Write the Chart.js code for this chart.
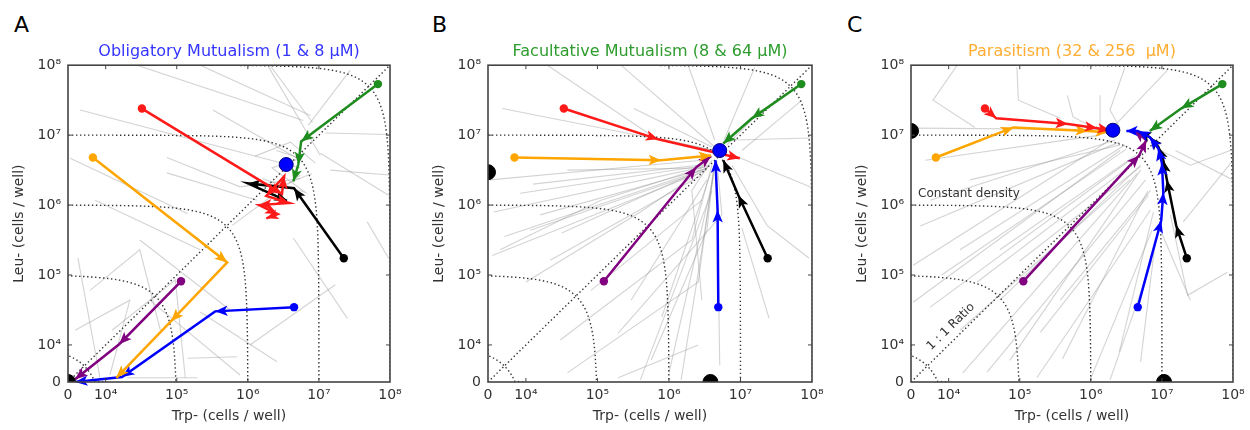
<!DOCTYPE html>
<html>
<head>
<meta charset="utf-8">
<script src="https://cdn.jsdelivr.net/npm/chart.js@4.4.0/dist/chart.umd.min.js"></script>
<style>
  html, body { margin: 0; padding: 0; background: #fff; }
  #wrap { position: relative; width: 1250px; height: 430px; overflow: hidden; font-family: "DejaVu Sans", sans-serif; }
  .panel { position: absolute; top: 0; }
  .letter { position: absolute; top: 14px; font-size: 22px; line-height: 1; color: #000; }
</style>
</head>
<body>
<div id="wrap">
  <div class="letter" style="left:14px">A</div>
  <div class="letter" style="left:432px">B</div>
  <div class="letter" style="left:847px">C</div>
  <canvas class="panel" id="panelA" width="415" height="430" style="left:0px"></canvas>
  <canvas class="panel" id="panelB" width="417" height="430" style="left:420px"></canvas>
  <canvas class="panel" id="panelC" width="407" height="430" style="left:843px"></canvas>
</div>
<script>
// All coordinates are log10(cells / well). An empty well (0 cells) is drawn on the lower edge of the axis.
const ZERO = -Infinity;
const AXIS_ZERO = 3.47;
const AXIS_TOP = 8;
const tickValues = [AXIS_ZERO, 4, 5, 6, 7, 8];
const tickLabels = ['0', '10\u2074', '10\u2075', '10\u2076', '10\u2077', '10\u2078'];
const densityLevels = [4, 5, 6, 7, 8];

// ---- A: obligatory mutualism (1 & 8 uM) ----
const obligRed    = [[4.51,7.38],[6.48,6.16],[6.51,6.41],[6.26,6.13],[6.58,6.03],[6.16,6.00],[6.42,5.87],[6.26,5.81]];
const obligGreen  = [[7.83,7.73],[6.75,6.91],[6.71,6.58],[6.64,6.34]];
const obligBlack  = [[7.35,5.24],[6.65,6.24],[6.00,6.31],[6.55,6.06]];
const obligOrange = [[3.82,6.68],[5.71,5.18],[4.92,4.34],[4.15,3.53]];
const obligBlue   = [[6.65,4.54],[5.54,4.48],[4.23,3.54],[3.57,ZERO]];
const obligPurple = [[5.06,4.91],[4.19,4.01],[3.57,3.51]];
const obligStable = [[6.54,6.58]];
const obligExtinct = [[ZERO,ZERO]];
const obligGray = [
  [[4.44,8.00],[6.78,7.21]], [[5.33,8.00],[6.88,7.28]], [[6.31,8.00],[6.91,7.18]],
  [[3.64,7.36],[6.74,6.53]], [[3.50,6.67],[5.15,5.88]], [[5.51,7.36],[6.74,6.64]],
  [[7.02,6.74],[7.98,6.14]], [[7.09,7.03],[7.98,7.01]], [[7.44,7.93],[6.85,7.14]],
  [[4.86,6.46],[6.13,6.07]], [[6.64,5.53],[7.40,4.38]], [[7.68,5.76],[7.98,5.24]],
  [[3.61,5.24],[3.92,3.53]], [[5.33,4.47],[6.41,3.76]], [[4.30,3.53],[5.29,3.53]],
  [[5.15,3.81],[5.85,3.83]], [[3.78,4.78],[4.48,5.36],[4.77,4.21]],
  [[3.57,4.21],[4.34,4.64],[4.06,3.57]], [[4.48,5.50],[5.75,4.50]],
  [[6.20,6.38],[6.81,6.18],[6.34,6.53],[6.74,6.67],[6.40,6.78]],
  [[6.03,4.00],[7.23,4.86]], [[3.85,6.07],[5.33,5.36]],
  [[4.09,4.21],[4.98,4.93],[5.12,3.53]], [[4.62,4.64],[5.89,3.57]],
  [[5.78,5.71],[6.74,6.43]], [[4.86,6.68],[5.89,6.26],[6.74,6.38]],
  [[6.29,7.98],[7.02,6.71]], [[7.16,6.50],[7.98,6.43]],
  [[6.10,6.70],[6.60,6.90],[6.95,6.60]], [[6.30,6.20],[6.90,6.45]]
];

// ---- B: facultative mutualism (8 & 64 uM) ----
const facultRed    = [[4.53,7.38],[5.85,6.94],[6.99,6.67]];
const facultGreen  = [[7.85,7.73],[7.16,7.24],[6.76,6.88]];
const facultOrange = [[3.84,6.68],[5.89,6.64],[6.59,6.71]];
const facultPurple = [[5.09,4.91],[6.38,6.54],[6.59,6.70]];
const facultBlue   = [[6.69,4.54],[6.68,5.93],[6.65,6.64]];
const facultBlack  = [[7.38,5.24],[6.97,6.14],[6.76,6.64]];
const facultStable = [[6.71,6.78]];
const facultExtinct = [[ZERO,6.47],[6.58,ZERO]];
const facultGray = [
  [[3.67,7.38],[6.64,6.78]], [[4.30,8.00],[5.79,6.97],[6.63,6.78]], [[5.33,8.00],[6.64,6.83]],
  [[6.27,8.00],[6.64,6.93]], [[5.51,7.38],[6.60,6.83]], [[7.98,6.96],[6.92,6.93]],
  [[7.98,6.26],[6.98,6.68]], [[7.20,7.97],[6.77,6.93]], [[3.50,6.36],[6.46,6.64]],
  [[3.92,6.17],[6.53,6.57]], [[4.58,6.50],[6.46,6.53]], [[3.53,5.28],[6.53,6.50]],
  [[3.64,5.36],[5.05,6.07],[6.57,6.57]], [[4.58,3.60],[6.41,4.90],[6.63,6.57]],
  [[5.29,3.53],[6.41,4.00]], [[5.29,4.17],[6.74,5.86],[6.67,6.64]],
  [[7.40,4.38],[7.02,5.67]], [[7.96,5.24],[7.37,5.71],[6.88,6.57]],
  [[6.71,3.71],[6.68,5.86]], [[4.48,4.07],[6.32,5.50],[6.60,6.57]],
  [[5.47,4.64],[6.53,6.36]], [[6.17,3.50],[6.46,5.36],[6.63,6.50]],
  [[4.34,5.21],[6.46,6.43]], [[6.46,4.64],[6.32,6.21],[6.60,6.64]],
  [[4.06,5.64],[6.32,6.43]], [[7.30,7.36],[6.81,6.86]], [[4.91,4.78],[6.46,6.07]],
  [[4.20,5.86],[6.54,6.53]], [[5.75,3.78],[6.53,5.64],[6.64,6.64]],
  [[7.86,7.50],[7.02,6.78]],
  [[3.55,5.90],[6.50,6.55]], [[3.70,5.55],[6.52,6.52]], [[4.10,6.30],[6.50,6.58]],
  [[4.00,4.90],[5.60,5.90],[6.55,6.55]], [[5.60,3.50],[6.60,6.20]], [[6.00,3.60],[6.62,6.40]],
  [[5.90,4.40],[6.58,6.45]], [[4.50,5.60],[6.45,6.50]]
];

// ---- C: parasitism (32 & 256 uM) ----
const parasRed    = [[4.51,7.38],[4.67,7.24],[5.68,7.16],[6.09,7.10],[6.27,7.07]];
const parasOrange = [[3.82,6.68],[4.91,7.11],[5.96,7.06],[6.24,7.04]];
const parasGreen  = [[7.85,7.73],[7.27,7.38],[6.83,7.06]];
const parasPurple = [[5.05,4.91],[6.68,6.71],[6.78,6.93],[6.61,7.07]];
const parasBlue   = [[6.66,4.54],[6.99,5.78],[7.02,6.18],[7.00,6.60],[6.95,6.81],[6.83,6.97],[6.66,7.06],[6.50,7.06]];
const parasBlack  = [[7.35,5.24],[7.20,5.71],[7.07,6.36],[7.02,6.64],[6.95,6.83],[6.83,6.97],[6.69,7.04]];
const parasStable = [[6.31,7.07]];
const parasExtinct = [[ZERO,7.06],[7.03,ZERO]];
const parasGray = [
  [[3.50,4.61],[6.41,6.78]], [[3.50,5.14],[6.27,6.93]], [[3.74,4.54],[6.55,6.64]],
  [[4.16,5.36],[6.48,6.86]], [[4.54,3.61],[6.77,6.36]], [[5.24,3.53],[6.84,5.93]],
  [[5.29,4.18],[6.81,6.14]], [[4.86,3.78],[6.70,6.50]], [[6.70,3.76],[6.91,5.50]],
  [[5.99,3.50],[6.86,5.64]], [[5.57,4.64],[6.84,6.21]], [[3.74,6.07],[6.34,6.93]],
  [[3.67,6.64],[6.13,7.00]], [[4.30,6.36],[6.41,6.86]],
  [[4.12,8.00],[3.78,7.50],[4.37,7.11]], [[4.96,7.97],[4.98,7.50],[5.57,7.24]],
  [[5.67,7.57],[5.75,7.26],[6.06,7.10]], [[6.13,7.57],[6.13,7.10]],
  [[7.08,7.93],[6.31,7.11]], [[8.00,6.36],[7.19,6.78]], [[7.30,5.76],[8.00,6.64]],
  [[7.92,5.04],[7.36,4.71],[7.12,5.86]], [[7.40,4.64],[6.98,5.64]],
  [[3.53,7.10],[6.13,7.08]], [[4.72,5.36],[6.63,6.71]], [[6.27,3.50],[6.86,5.21]],
  [[4.16,4.21],[6.55,6.36]], [[4.72,4.64],[6.70,6.57]],
  [[7.96,6.78],[7.40,6.57],[6.98,6.78]], [[6.48,7.97],[6.27,7.36],[6.41,7.10]],
  [[3.60,5.70],[6.40,6.90]], [[3.90,5.00],[6.50,6.80]], [[4.40,4.90],[6.60,6.60]],
  [[5.00,5.20],[6.70,6.55]], [[5.60,3.80],[6.80,6.20]], [[4.20,3.60],[6.65,6.45]],
  [[6.40,3.90],[6.88,5.90]]
];

// ---------------------------------------------------------------
const FONT = '"DejaVu Sans", sans-serif';
const GRID_INK = '#333';

function clampAxis(v) { return v < AXIS_ZERO ? AXIS_ZERO : v; }
function toPoints(arr) { return arr.map(([x, y]) => ({ x: clampAxis(x), y: clampAxis(y) })); }

// x + y = N (cells per well) drawn on the log/log plane
function densityCurve(level) {
  const N = Math.pow(10, level);
  const mid = level - Math.log10(2);
  const pts = [{ x: AXIS_ZERO, y: level }];
  for (let a = AXIS_ZERO; a < mid; a += 0.02) pts.push({ x: a, y: Math.log10(N - Math.pow(10, a)) });
  for (let b = mid; b >= AXIS_ZERO; b -= 0.02) pts.push({ x: Math.log10(N - Math.pow(10, b)), y: b });
  pts.push({ x: level, y: AXIS_ZERO });
  return pts;
}

function trackDataset(arr, color) {
  return {
    data: toPoints(arr), showLine: true, borderColor: color, backgroundColor: color,
    borderWidth: 2.5, tension: 0, arrow: { color: color, len: 12.5, half: 5.2 },
    pointRadius: c => (c.dataIndex === 0 ? 4.2 : 0), pointHoverRadius: 0,
    pointBackgroundColor: color, pointBorderWidth: 0
  };
}

function dotDataset(arr, fill, stroke, r) {
  return {
    data: toPoints(arr), showLine: false, pointRadius: r, pointHoverRadius: r,
    pointBackgroundColor: fill, pointBorderColor: stroke, pointBorderWidth: 1, clip: 0
  };
}

const arrowPlugin = {
  id: 'trackArrows',
  afterDatasetDraw(chart, args) {
    const ds = chart.data.datasets[args.index];
    if (!ds.arrow) return;
    const pts = args.meta.data;
    const ctx = chart.ctx;
    ctx.save();
    ctx.fillStyle = ds.arrow.color;
    for (let i = 1; i < pts.length; i++) {
      const p0 = pts[i - 1], p1 = pts[i];
      const dx = p1.x - p0.x, dy = p1.y - p0.y;
      const d = Math.hypot(dx, dy);
      if (d < 4) continue;
      const ux = dx / d, uy = dy / d;
      const L = Math.min(ds.arrow.len, d), H = ds.arrow.half;
      const bx = p1.x - ux * L, by = p1.y - uy * L;
      ctx.beginPath();
      ctx.moveTo(p1.x, p1.y);
      ctx.lineTo(bx - uy * H, by + ux * H);
      ctx.lineTo(bx + ux * 3, by + uy * 3);
      ctx.lineTo(bx + uy * H, by - ux * H);
      ctx.closePath();
      ctx.fill();
    }
    ctx.restore();
  }
};

const framePlugin = {
  id: 'frameTicks',
  afterDraw(chart) {
    const { ctx, chartArea: a, scales } = chart;
    ctx.save();
    ctx.strokeStyle = '#444';
    ctx.lineWidth = 1;
    ctx.beginPath();
    for (const v of tickValues.slice(1, -1)) {
      const px = scales.x.getPixelForValue(v);
      const py = scales.y.getPixelForValue(v);
      ctx.moveTo(px, a.bottom); ctx.lineTo(px, a.bottom - 4);
      ctx.moveTo(px, a.top); ctx.lineTo(px, a.top + 4);
      ctx.moveTo(a.left, py); ctx.lineTo(a.left + 4, py);
      ctx.moveTo(a.right, py); ctx.lineTo(a.right - 4, py);
    }
    ctx.stroke();
    ctx.lineWidth = 1.6;
    ctx.strokeRect(a.left, a.top, a.right - a.left, a.bottom - a.top);
    ctx.restore();
  }
};

const notesPlugin = {
  id: 'notes',
  afterDatasetsDraw(chart, args, opts) {
    if (!opts || !opts.items) return;
    const { ctx, scales } = chart;
    const diag = Math.atan2(scales.y.getPixelForValue(AXIS_TOP) - scales.y.getPixelForValue(AXIS_ZERO),
                            scales.x.getPixelForValue(AXIS_TOP) - scales.x.getPixelForValue(AXIS_ZERO));
    ctx.save();
    ctx.fillStyle = GRID_INK;
    ctx.font = '12px ' + FONT;
    for (const it of opts.items) {
      const px = scales.x.getPixelForValue(it.x), py = scales.y.getPixelForValue(it.y);
      ctx.save();
      ctx.translate(px, py);
      if (it.alongDiagonal) ctx.rotate(diag);
      ctx.textAlign = it.align || 'left';
      ctx.textBaseline = 'middle';
      ctx.fillText(it.text, 0, 0);
      ctx.restore();
    }
    ctx.restore();
  }
};

function axis(titleText, isX) {
  const cfg = {
    type: 'linear', min: AXIS_ZERO, max: AXIS_TOP,
    afterBuildTicks: s => { s.ticks = tickValues.map(v => ({ value: v })); },
    ticks: {
      callback: (v, i) => tickLabels[i], font: { family: FONT, size: 14 }, color: GRID_INK,
      maxRotation: 0, autoSkip: false, padding: isX ? 5 : 7
    },
    grid: { display: false, drawTicks: false },
    border: { display: false },
    title: {
      display: true, text: titleText, color: GRID_INK, font: { family: FONT, size: 14 },
      padding: isX ? { top: 0, bottom: 5 } : { top: 11, bottom: 0 }
    }
  };
  if (isX) cfg.afterFit = s => { s.height = 48; };
  else cfg.afterFit = s => { s.width = 68; };
  return cfg;
}

function makePanel(canvasId, titleText, titleColor, tracks, stable, extinct, gray, rightPad, notes) {
  const datasets = [];
  datasets.push(dotDataset(extinct, '#000', '#000', 7.5));
  datasets.push(dotDataset(stable, '#0000ff', '#00007a', 7));
  for (const [arr, color] of tracks) datasets.push(trackDataset(arr, color));
  datasets.push({
    data: [{ x: AXIS_ZERO, y: AXIS_ZERO }, { x: AXIS_TOP, y: AXIS_TOP }], showLine: true,
    borderColor: GRID_INK, borderWidth: 1.4, borderDash: [1.4, 2.6], pointRadius: 0
  });
  for (const lv of densityLevels) {
    datasets.push({
      data: densityCurve(lv), showLine: true, borderColor: GRID_INK, borderWidth: 1.4,
      borderDash: [1.4, 2.6], pointRadius: 0, tension: 0
    });
  }
  for (const g of gray) {
    datasets.push({
      data: toPoints(g), showLine: true, borderColor: 'rgba(150,150,150,0.42)',
      borderWidth: 1.1, pointRadius: 0, tension: 0
    });
  }
  new Chart(document.getElementById(canvasId), {
    type: 'scatter',
    data: { datasets },
    options: {
      responsive: false, animation: false, devicePixelRatio: 1,
      layout: { padding: { left: 0, right: rightPad, top: 0, bottom: 0 } },
      scales: { x: axis('Trp- (cells / well)', true), y: axis('Leu- (cells / well)', false) },
      plugins: {
        legend: { display: false }, tooltip: { enabled: false },
        title: {
          display: true, text: titleText, color: titleColor, fullSize: false,
          font: { family: FONT, size: 16, weight: 'normal' }, padding: { top: 42, bottom: 4 }
        },
        notes: { items: notes || [] }
      }
    },
    plugins: [arrowPlugin, framePlugin, notesPlugin]
  });
}

makePanel('panelA', 'Obligatory Mutualism (1 & 8 \u03bcM)', '#3535ff',
  [[obligRed, '#ff1a1a'], [obligGreen, '#1e8c1e'], [obligBlack, '#000000'],
   [obligOrange, '#ffa500'], [obligBlue, '#0000ff'], [obligPurple, '#800080']],
  obligStable, obligExtinct, obligGray, 25);

makePanel('panelB', 'Facultative Mutualism (8 & 64 \u03bcM)', '#2e9c2e',
  [[facultRed, '#ff1a1a'], [facultGreen, '#1e8c1e'], [facultBlack, '#000000'],
   [facultOrange, '#ffa500'], [facultBlue, '#0000ff'], [facultPurple, '#800080']],
  facultStable, facultExtinct, facultGray, 25);

makePanel('panelC', 'Parasitism (32 & 256  \u03bcM)', '#ffad33',
  [[parasBlue, '#0000ff'], [parasBlack, '#000000'], [parasRed, '#ff1a1a'],
   [parasOrange, '#ffa500'], [parasGreen, '#1e8c1e'], [parasPurple, '#800080']],
  parasStable, parasExtinct, parasGray, 17,
  [{ text: 'Constant density', x: 3.57, y: 6.16 },
   { text: '1 : 1 Ratio', x: 4.03, y: 4.26, align: 'center', alongDiagonal: true }]);
</script>
</body>
</html>
